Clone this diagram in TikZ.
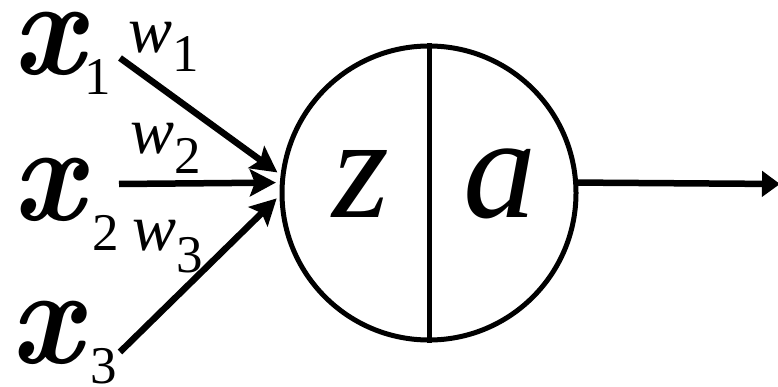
\documentclass[tikz,border=0pt]{standalone}
\usepackage{fontspec}
\newfontfamily\timesfont{LiberationSerif}[Extension=.ttf,UprightFont=*-Regular,BoldFont=*-Bold,ItalicFont=*-Italic,BoldItalicFont=*-BoldItalic]
\usetikzlibrary{arrows.meta,positioning}
\newcommand{\subsz}{\timesfont\fontsize{53pt}{53pt}\selectfont\upshape\mdseries}
\newcommand{\inx}{\scalebox{0.92}[1]{x}}
\tikzset{
  inlabel/.style={anchor=base west,inner sep=0pt,font=\fontsize{138pt}{138pt}\selectfont\bfseries\itshape},
  wlabel/.style={anchor=base west,inner sep=0pt,font=\timesfont\fontsize{66pt}{66pt}\selectfont\itshape},
  partlabel/.style={anchor=base,inner sep=0pt,font=\timesfont\fontsize{146pt}{146pt}\selectfont\itshape},
  neuronnode/.style={circle,draw,line width=5pt,minimum size=294pt,inner sep=0pt},
  inarrow/.style={-{Stealth[length=26pt,width=27pt,inset=5pt]},line width=6.5pt,shorten >=4pt},
  outarrow/.style={-{Triangle[length=18pt,width=25pt]},line width=6.5pt}
}

\begin{document}
\begin{tikzpicture}[x=1pt,y=1pt]
\useasboundingbox (0,0) rectangle (778,386);
% neuron with z | a
\node[neuronnode] (neuron) at (429,193) {};
\draw[line width=5pt] (neuron.north) -- (neuron.south);
\node[partlabel] (z) at (361,169) {z};
\node[partlabel] (a) at (500,169) {a};
% inputs and weights
\node[inlabel] (x1) at (12,311) {\makebox[72pt][l]{\inx}\raisebox{-20pt}{\subsz 1}};
\node[inlabel] (x2) at (12,166) {\makebox[80pt][l]{\inx}\raisebox{-30pt}{\subsz 2}};
\node[inlabel] (x3) at (10,23) {\makebox[80pt][l]{\inx}\raisebox{-20pt}{\subsz 3}};
\node[wlabel] (w1) at (128,333) {w\raisebox{-19pt}{\subsz 1}};
\node[wlabel] (w2) at (130,233) {w\raisebox{-20pt}{\subsz 2}};
\node[wlabel] (w3) at (132,136) {w\raisebox{-22pt}{\subsz 3}};
\coordinate (in1) at (120,328);
\coordinate (in2) at (119,202);
\coordinate (in3) at (120,34);
\coordinate (out) at (780,202);
\draw[inarrow] (in1) -- (neuron.173);
\draw[inarrow] (in2) -- (neuron.176);
\draw[inarrow] (in3) -- (neuron.181);
\draw[outarrow] (neuron.4) -- (out);
\end{tikzpicture}
\end{document}
